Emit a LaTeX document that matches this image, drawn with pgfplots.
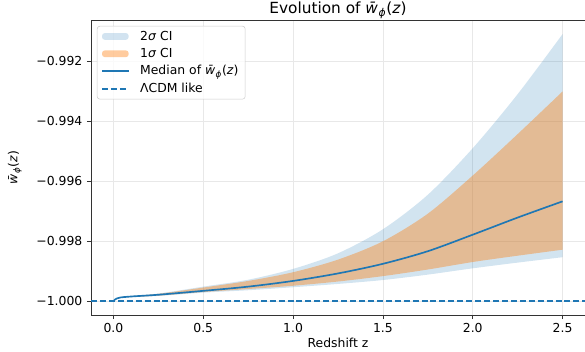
\documentclass[border=0pt]{standalone}
\usepackage{pgfplots}
\pgfplotsset{compat=1.18}
\usepackage{pgfplotstable}
\usepgfplotslibrary{fillbetween}
\usetikzlibrary{calc}
\usepackage{fontspec}
\setmainfont{DejaVu Sans}
\newcommand{\wphi}{\textit{w̄}\textsubscript{\textit{ϕ}}(\textit{z})}
\definecolor{cblue}{HTML}{1F77B4}
\definecolor{corange}{HTML}{FF7F0E}
\pgfplotstableread{
z     lo2       lo1       med       hi1       hi2
0.00 -1.00000 -1.00000 -1.00000 -1.00000 -1.00000
0.04 -0.99988 -0.99988 -0.99987 -0.99987 -0.99986
0.25 -0.99982 -0.99981 -0.99978 -0.99975 -0.99974
0.50 -0.99971 -0.99969 -0.99965 -0.99954 -0.99951
0.75 -0.99963 -0.99959 -0.99951 -0.99932 -0.99928
1.00 -0.99953 -0.99948 -0.99932 -0.99903 -0.99892
1.25 -0.99942 -0.99934 -0.99907 -0.99861 -0.99840
1.50 -0.99929 -0.99916 -0.99875 -0.99800 -0.99760
1.75 -0.99911 -0.99894 -0.99833 -0.99708 -0.99645
2.00 -0.99890 -0.99869 -0.99778 -0.99581 -0.99490
2.25 -0.99871 -0.99848 -0.99721 -0.99443 -0.99310
2.50 -0.99853 -0.99828 -0.99667 -0.99301 -0.99110
}\data
\begin{document}
\begin{tikzpicture}
\begin{axis}[
  name=ax,
  scale only axis,
  width=370.5pt, height=221.25pt,
  xmin=-0.125, xmax=2.625,
  ymin=-1.000455, ymax=-0.99063,
  xtick={0,0.5,1,1.5,2,2.5},
  xticklabels={0.0,0.5,1.0,1.5,2.0,2.5},
  ytick={-1,-0.998,-0.996,-0.994,-0.992},
  yticklabels={−1.000,−0.998,−0.996,−0.994,−0.992},
  scaled y ticks=false,
  tick align=outside,
  tick pos=left,
  major tick length=3pt,
  every tick/.style={black!80, line width=0.6pt},
  axis line style={black!80, line width=0.6pt},
  ticklabel style={font=\fontsize{9.3}{11}\selectfont},
  grid=major,
  major grid style={black!9, line width=0.6pt},
  title={Evolution of \wphi},
  every axis title/.style={at={(axis description cs:0.5,1.034)}, anchor=center, font=\fontsize{11.5}{13}\selectfont},
  xlabel={Redshift z},
  xlabel style={at={(axis description cs:0.5,-0.095)}, anchor=center, font=\fontsize{9.3}{11}\selectfont},
  ylabel={\wphi},
  ylabel style={at={(axis description cs:-0.154,0.5)}, anchor=center, font=\fontsize{9.3}{11}\selectfont},
  legend style={at={(axis description cs:0.012,0.98)}, anchor=north west,
    draw=black!20, rounded corners=2pt, fill=white, fill opacity=0.8, text opacity=1,
    font=\fontsize{9.3}{11}\selectfont, row sep=0.6pt, inner xsep=3pt, inner ysep=1.5pt,
    /tikz/every odd column/.append style={column sep=6pt}},
  legend cell align=left,
  legend image code/.code={\draw[#1] (0cm,0cm) -- (0.7cm,0cm);},
]
\addplot[name path=hi2, draw=none, smooth, forget plot] table[x=z,y=hi2]{\data};
\addplot[name path=lo2, draw=none, smooth, forget plot] table[x=z,y=lo2]{\data};
\addplot[name path=hi1, draw=none, smooth, forget plot] table[x=z,y=hi1]{\data};
\addplot[name path=lo1, draw=none, smooth, forget plot] table[x=z,y=lo1]{\data};
\addplot[fill=cblue, fill opacity=0.2, draw=none, area legend,
  legend image code/.code={\fill[cblue, fill opacity=0.2] (0cm,-2.5pt) rectangle (0.7cm,2.5pt);}]
  fill between[of=hi2 and lo2];
\addlegendentry{2\textit{σ} CI}
\addplot[fill=corange, fill opacity=0.4, draw=none, area legend,
  legend image code/.code={\fill[corange, fill opacity=0.4] (0cm,-2.5pt) rectangle (0.7cm,2.5pt);}]
  fill between[of=hi1 and lo1];
\addlegendentry{1\textit{σ} CI}
\addplot[draw=cblue, line width=1.25pt, smooth, no marks] table[x=z,y=med]{\data};
\addlegendentry{Median of \wphi}
\addplot[draw=cblue, color=cblue, line width=1.3pt, dash pattern=on 4.5pt off 2.2pt, no marks] coordinates {(-0.125,-1) (2.625,-1)};
\addlegendentry{ΛCDM like}
\end{axis}
\pgfresetboundingbox
\path ($(ax.south west)+(-68.25pt,-27pt)$) rectangle ($(ax.north east)+(0pt,15pt)$);
\end{tikzpicture}
\end{document}
